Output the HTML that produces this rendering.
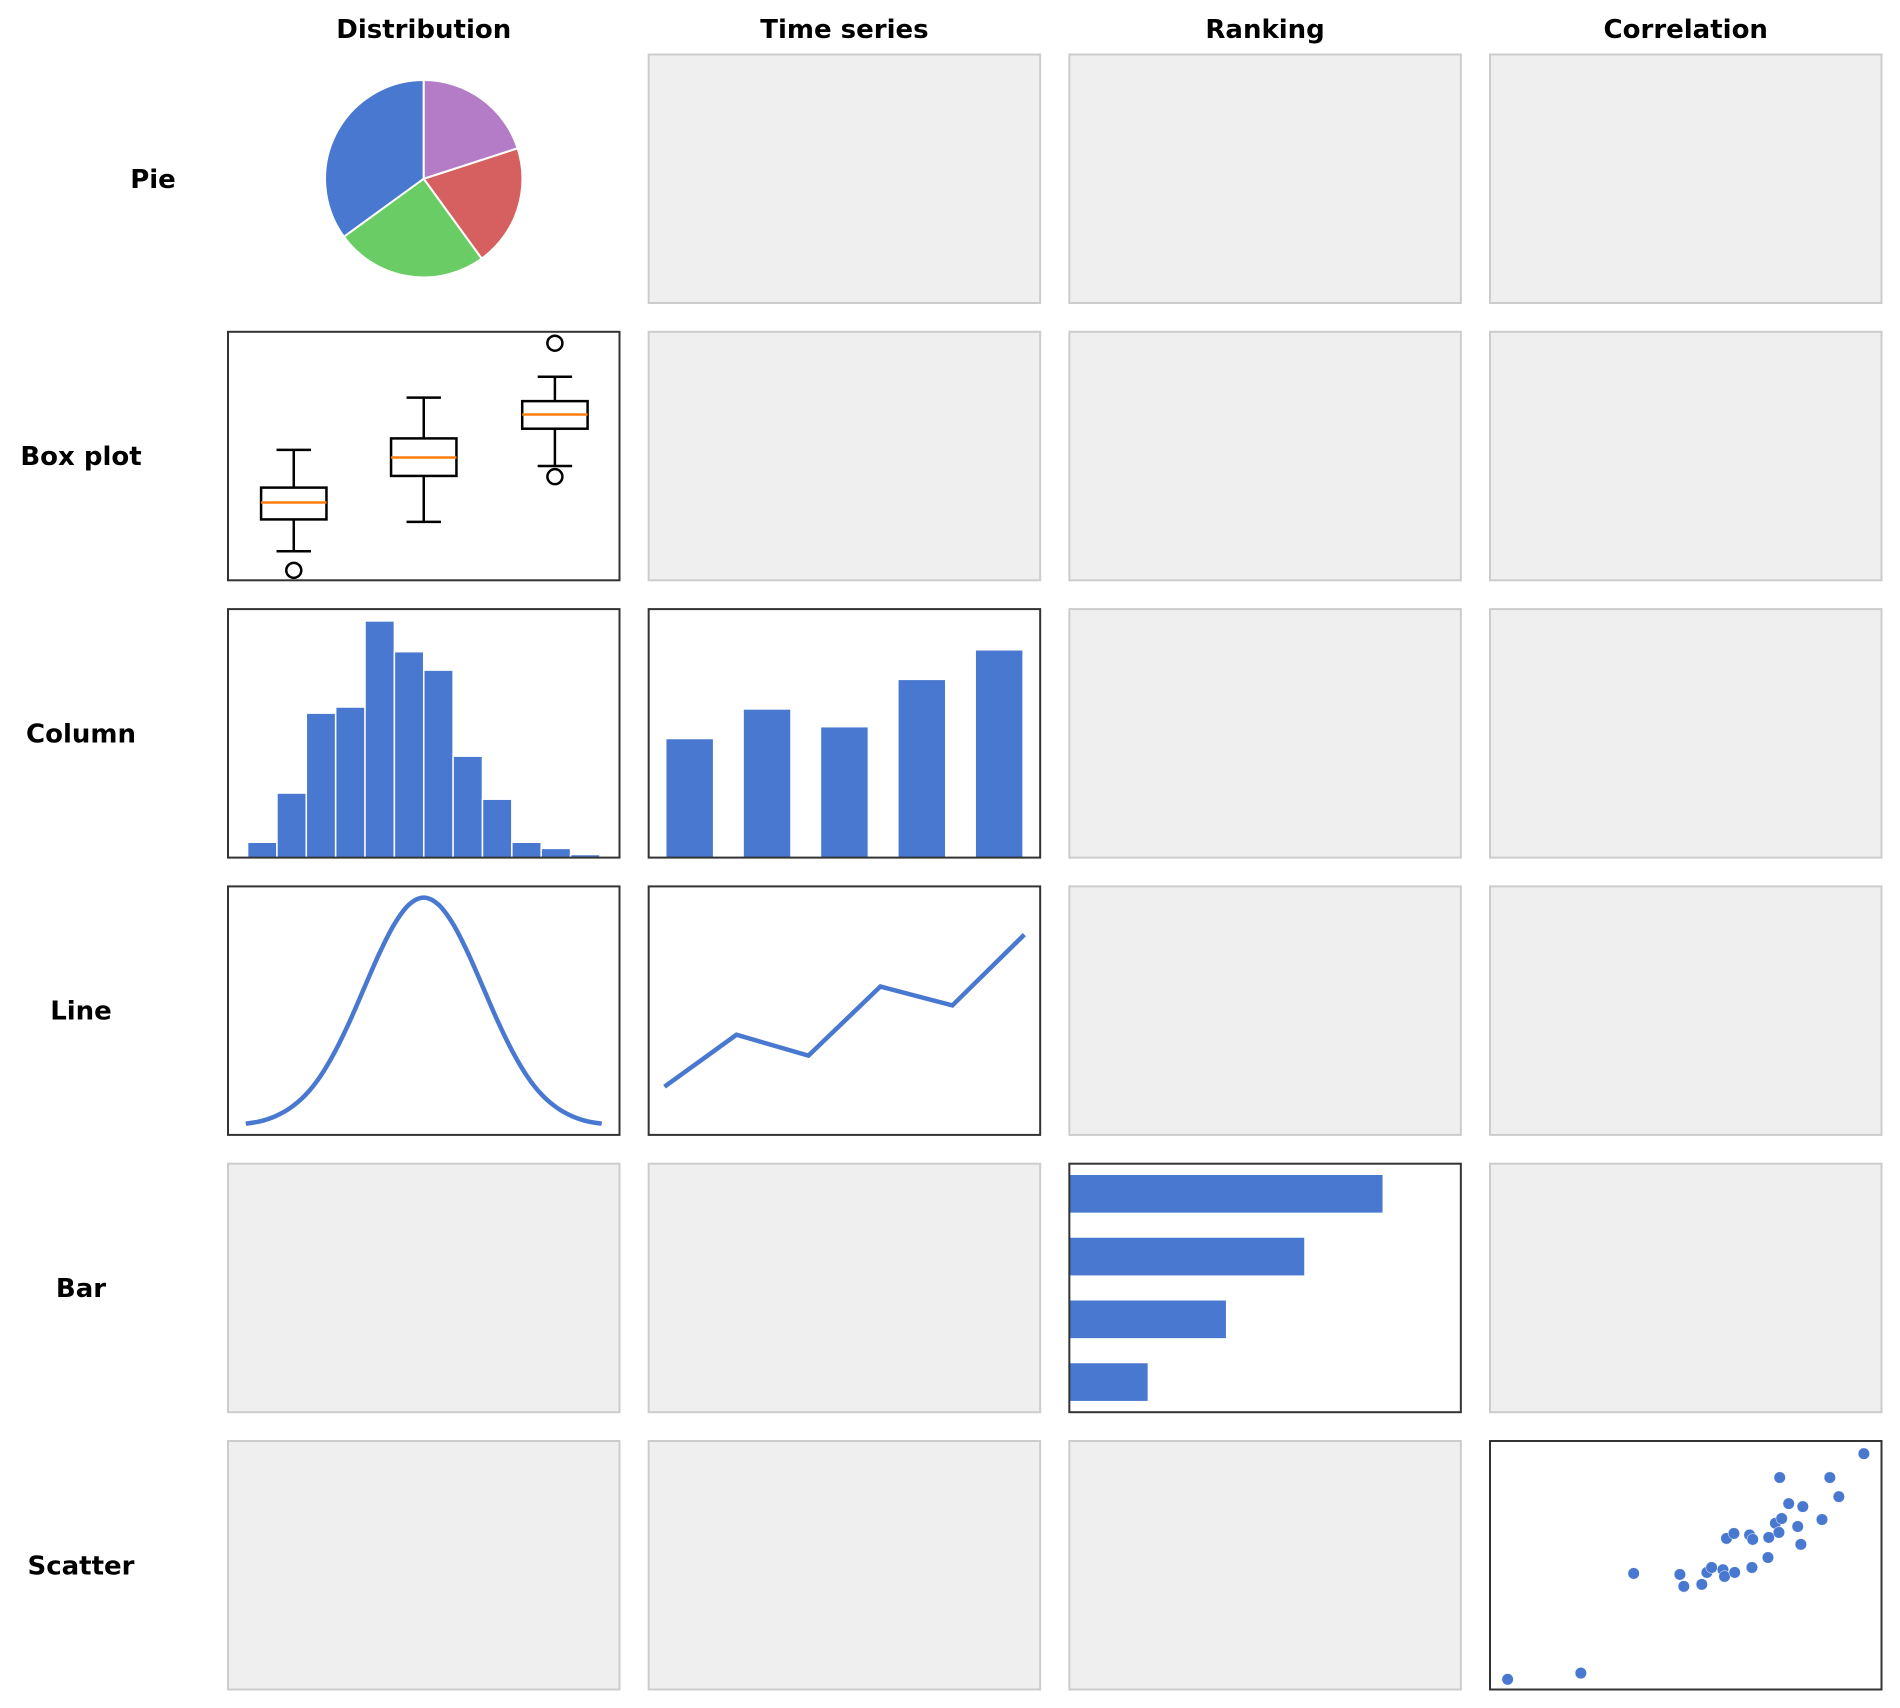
<!DOCTYPE html>
<html><head><meta charset="utf-8"><style>
html,body{margin:0;padding:0;background:#fff;}
svg{display:block;}
text{font-family:"DejaVu Sans","Liberation Sans",sans-serif;font-weight:bold;fill:#000;}
</style></head><body>
<svg id="fig" width="1900" height="1708" viewBox="0 0 1900 1708" xmlns="http://www.w3.org/2000/svg"></svg>
<script>
// ---- data ----
const colTitles = ["Distribution", "Time series", "Ranking", "Correlation"];
const rowTitles = ["Pie", "Box plot", "Column", "Line", "Bar", "Scatter"];
const pieValues = [35, 25, 20, 20];
const pieColors = ["#4878d0", "#6acc64", "#d65f5f", "#b47cc7"];
const boxWhiskLow = [1.17, 2.35, 4.60];
const boxQ1 = [2.45, 4.20, 6.10];
const boxMedian = [3.13, 4.94, 6.67];
const boxQ3 = [3.73, 5.71, 7.21];
const boxWhiskHigh = [5.25, 7.35, 8.19];
const boxOutliers = [[0.40], [], [9.54, 4.17]];
const histCounts = [5, 21, 47, 49, 77, 67, 61, 33, 19, 5, 3, 1];
const colCategories = ["A", "B", "C", "D", "E"];
const colValues = [4, 5, 4.4, 6, 7];
const kdeX = [-3,-2.75,-2.5,-2.25,-2,-1.75,-1.5,-1.25,-1,-0.75,-0.5,-0.25,0,0.25,0.5,0.75,1,1.25,1.5,1.75,2,2.25,2.5,2.75,3];
const kdeY = [0.011,0.022,0.044,0.080,0.135,0.216,0.325,0.458,0.607,0.755,0.882,0.969,1.0,0.969,0.882,0.755,0.607,0.458,0.325,0.216,0.135,0.080,0.044,0.022,0.011];
const tsValues = [1.94, 4.03, 3.19, 5.97, 5.21, 8.06];
const barCategories = ["W", "X", "Y", "Z"];
const barValues = [4, 3, 2, 1];
const scatterX = [0.45,2.32,3.67,4.85,4.95,5.41,5.54,5.66,5.95,5.99,6.25,6.04,6.23,6.63,6.71,6.69,7.10,7.12,7.29,7.45,7.38,7.63,7.99,7.86,7.94,8.48,7.40,8.68,8.91,9.55];
const scatterY = [0.41,0.66,4.67,4.63,4.15,4.23,4.71,4.91,4.82,4.55,4.71,6.08,6.28,6.22,6.04,4.91,5.31,6.12,6.69,6.88,6.32,7.48,7.36,6.56,5.84,6.84,8.53,8.53,7.76,9.49];

// ---- layout ----
const NS = "http://www.w3.org/2000/svg";
const svg = document.getElementById("fig");
const colLeft = c => 228 + 420.67 * c;
const rowTop = r => 54.5 + 277.3 * r;
const PW = 391.5, PH = 248.5;
const BLUE = "#4878d0";
function mk(tag, attrs, parent) {
  const e = document.createElementNS(NS, tag);
  for (const k in attrs) e.setAttribute(k, attrs[k]);
  (parent || svg).appendChild(e);
  return e;
}
function lin(d0, d1, r0, r1) { return v => r0 + (v - d0) / (d1 - d0) * (r1 - r0); }
function smoothPath(pts) {
  let d = "M" + pts[0][0] + "," + pts[0][1];
  for (let i = 0; i < pts.length - 1; i++) {
    const p0 = pts[Math.max(0, i - 1)], p1 = pts[i], p2 = pts[i + 1], p3 = pts[Math.min(pts.length - 1, i + 2)];
    const c1x = p1[0] + (p2[0] - p0[0]) / 6, c1y = p1[1] + (p2[1] - p0[1]) / 6;
    const c2x = p2[0] - (p3[0] - p1[0]) / 6, c2y = p2[1] - (p3[1] - p1[1]) / 6;
    d += ` C${c1x},${c1y} ${c2x},${c2y} ${p2[0]},${p2[1]}`;
  }
  return d;
}

// titles
colTitles.forEach((t, c) => {
  const el = mk("text", {x: colLeft(c) + PW / 2, y: 38, "text-anchor": "middle", "font-size": 26});
  el.textContent = t;
  
  
});
rowTitles.forEach((t, r) => {
  const x = r === 0 ? 153 : 81;
  const el = mk("text", {x: x, y: rowTop(r) + PH / 2 + 9, "text-anchor": "middle", "font-size": 26});
  el.textContent = t;
  
  
});

const active = {"0-0": "pie", "1-0": "box", "2-0": "hist", "2-1": "column", "3-0": "kde", "3-1": "ts", "4-2": "bar", "5-3": "scatter"};
for (let r = 0; r < 6; r++) for (let c = 0; c < 4; c++) {
  const key = r + "-" + c;
  const x = colLeft(c), y = rowTop(r);
  if (!active[key]) {
    const p = mk("rect", {x: x, y: y, width: PW, height: PH, fill: "#efefef", stroke: "#cccccc", "stroke-width": 2});
    
    
  }
}

function panel(r, c, name) {
  const g = mk("g", {});
  
  
  const x = colLeft(c), y = rowTop(r);
  mk("rect", {x: x, y: y, width: PW, height: PH, fill: "#fff"}, g);
  return {g, x, y};
}
function frame(P) {
  const f = mk("rect", {x: P.x, y: P.y, width: PW, height: PH, fill: "none", stroke: "#333", "stroke-width": 2}, P.g);
  
  
}

// pie
(function () {
  const g = mk("g", {});
  
  
  const cx = colLeft(0) + PW / 2, cy = rowTop(0) + PH / 2, R = 98.7;
  const total = pieValues.reduce((a, b) => a + b, 0);
  let a = 90;
  pieValues.forEach((v, i) => {
    const a2 = a + v / total * 360;
    const r1 = a * Math.PI / 180, r2 = a2 * Math.PI / 180;
    const x1 = cx + R * Math.cos(r1), y1 = cy - R * Math.sin(r1);
    const x2 = cx + R * Math.cos(r2), y2 = cy - R * Math.sin(r2);
    const large = (a2 - a) > 180 ? 1 : 0;
    const p = mk("path", {d: `M${cx},${cy} L${x1},${y1} A${R},${R} 0 ${large} 0 ${x2},${y2} Z`, fill: pieColors[i], stroke: "#fff", "stroke-width": 2, "stroke-linejoin": "round"}, g);
    
    
    a = a2;
  });
})();

// box plot
(function () {
  const P = panel(1, 0, "box-plot");
  const ys = lin(0, 10, P.y + PH, P.y);
  const fx = [0.168, 0.5, 0.835];
  const bw = 0.167 * PW, cw = 0.088 * PW;
  for (let i = 0; i < 3; i++) {
    const cx = P.x + fx[i] * PW;
    const st = {stroke: "#000", "stroke-width": 2.5, fill: "none"};
    mk("line", Object.assign({x1: cx, x2: cx, y1: ys(boxQ3[i]), y2: ys(boxWhiskHigh[i])}, st), P.g);
    mk("line", Object.assign({x1: cx, x2: cx, y1: ys(boxQ1[i]), y2: ys(boxWhiskLow[i])}, st), P.g);
    mk("line", Object.assign({x1: cx - cw / 2, x2: cx + cw / 2, y1: ys(boxWhiskHigh[i]), y2: ys(boxWhiskHigh[i])}, st), P.g);
    mk("line", Object.assign({x1: cx - cw / 2, x2: cx + cw / 2, y1: ys(boxWhiskLow[i]), y2: ys(boxWhiskLow[i])}, st), P.g);
    const b = mk("rect", Object.assign({x: cx - bw / 2, y: ys(boxQ3[i]), width: bw, height: ys(boxQ1[i]) - ys(boxQ3[i])}, st), P.g);
    
    
    mk("line", {x1: cx - bw / 2, x2: cx + bw / 2, y1: ys(boxMedian[i]), y2: ys(boxMedian[i]), stroke: "#ff7f0e", "stroke-width": 2.5}, P.g);
    boxOutliers[i].forEach(o => {
      const c = mk("circle", {cx: cx, cy: ys(o), r: 7.5, fill: "none", stroke: "#000", "stroke-width": 2.5}, P.g);
      
      
    });
  }
  frame(P);
})();

// histogram
(function () {
  const P = panel(2, 0, "histogram");
  const n = histCounts.length;
  const xs = lin(0, n, P.x + 0.05 * PW, P.x + 0.95 * PW);
  const max = Math.max(...histCounts);
  const ys = lin(0, max * 1.05, P.y + PH, P.y);
  histCounts.forEach((v, i) => {
    const b = mk("rect", {x: xs(i), y: ys(v), width: xs(i + 1) - xs(i), height: ys(0) - ys(v), fill: BLUE, stroke: "#fff", "stroke-width": 1.5}, P.g);
    
    
  });
  frame(P);
})();

// column
(function () {
  const P = panel(2, 1, "column-chart");
  const n = colValues.length;
  const xs = lin(-0.53, n - 1 + 0.53, P.x, P.x + PW);
  const ys = lin(0, Math.max(...colValues) * 1.2, P.y + PH, P.y);
  colValues.forEach((v, i) => {
    const b = mk("rect", {x: xs(i - 0.3), y: ys(v), width: xs(0.6) - xs(0), height: ys(0) - ys(v), fill: BLUE}, P.g);
    
    
  });
  frame(P);
})();

// kde line
(function () {
  const P = panel(3, 0, "density-line");
  const xs = lin(-3.3, 3.3, P.x, P.x + PW);
  const ys = lin(-0.038, 1.049, P.y + PH, P.y);
  const pts = kdeX.map((x, i) => [xs(x), ys(kdeY[i])]);
  const p = mk("path", {d: smoothPath(pts), fill: "none", stroke: BLUE, "stroke-width": 4.5, "stroke-linejoin": "round"}, P.g);
  
  
  frame(P);
})();

// time series line
(function () {
  const P = panel(3, 1, "time-series-line");
  const xs = lin(-0.22, tsValues.length - 1 + 0.22, P.x, P.x + PW);
  const ys = lin(0, 10, P.y + PH, P.y);
  const d = tsValues.map((v, i) => (i ? "L" : "M") + xs(i) + "," + ys(v)).join(" ");
  const p = mk("path", {d: d, fill: "none", stroke: BLUE, "stroke-width": 4.5}, P.g);
  
  
  frame(P);
})();

// horizontal bar
(function () {
  const P = panel(4, 2, "ranking-bar-chart");
  const xs = lin(0, Math.max(...barValues) * 1.25, P.x, P.x + PW);
  const n = barValues.length;
  const ys = lin(-0.48, n - 1 + 0.48, P.y, P.y + PH);
  barValues.forEach((v, i) => {
    const b = mk("rect", {x: xs(0), y: ys(i - 0.3), width: xs(v) - xs(0), height: ys(0.6) - ys(0), fill: BLUE}, P.g);
    
    
  });
  frame(P);
})();

// scatter
(function () {
  const P = panel(5, 3, "scatter-plot");
  const xs = lin(0, 10, P.x, P.x + PW);
  const ys = lin(0, 10, P.y + PH, P.y);
  scatterX.forEach((x, i) => {
    const c = mk("circle", {cx: xs(x), cy: ys(scatterY[i]), r: 5.8, fill: BLUE, stroke: "#fff", "stroke-width": 0.5}, P.g);
    
    
  });
  frame(P);
})();
</script>
</body></html>
